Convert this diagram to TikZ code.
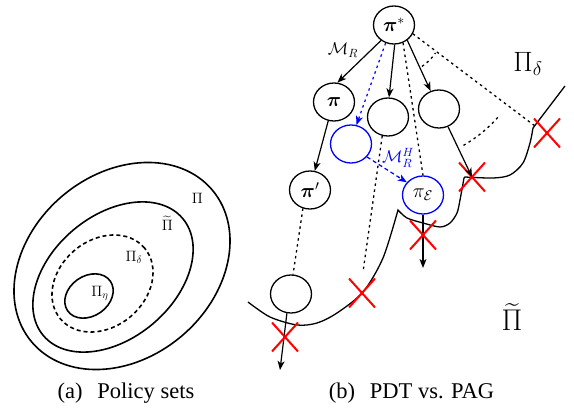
\RequirePackage{fix-cm}
\documentclass[tikz,border=0pt]{standalone}
\usepackage{amsmath}
\usepackage{bm}
\usepackage[no-math]{fontspec}
\setmainfont{Liberation Serif}
\usetikzlibrary{arrows.meta,shapes.geometric,shapes.misc}
\begin{document}
\begin{tikzpicture}[x=1pt,y=-1pt,
  circ/.style={draw, ellipse, minimum width=41pt, minimum height=38pt, inner sep=0pt, line width=1.3pt, font=\fontsize{20}{20}\selectfont},
  bcirc/.style={circ, draw=blue},
  arr/.style={line width=1.2pt, -{Stealth[length=9pt,width=7pt,inset=2.5pt]}},
  dotln/.style={line width=1.3pt, dash pattern=on 2.5pt off 3.5pt},
  curve/.style={line width=1.3pt, line join=miter},
  cross/.style={cross out, draw=red, line width=2pt, minimum width=24pt, minimum height=27pt, inner sep=0pt},
  ell/.style={line width=1.6pt},
  lab/.style={font=\fontsize{15}{15}\selectfont, inner sep=0pt},
  captext/.style={font=\fontsize{22.5}{24}\selectfont, anchor=base, inner sep=0pt}
]
\useasboundingbox (0,0) rectangle (574,412);

% (a) policy sets
\draw[ell, rotate around={40:(122,266)}] (122,266) ellipse [x radius=118pt, y radius=92pt];
\draw[ell, rotate around={40:(113,277)}] (113,277) ellipse [x radius=91pt, y radius=61.5pt];
\draw[ell, dash pattern=on 4pt off 3pt, rotate around={40:(102.5,283.5)}] (102.5,283.5) ellipse [x radius=55pt, y radius=43.4pt];
\draw[ell, rotate around={35:(89,296)}] (89,296) ellipse [x radius=26pt, y radius=20pt];
\node[lab] (lP) at (197.5,198.5) {$\Pi$};
\node[lab] (lPt) at (167.5,223) {$\widetilde{\Pi}$};
\node[lab] (lPd) at (134,257) {$\Pi_\delta$};
\node[lab] (lPe) at (100,293.5) {$\Pi_\eta$};
\node[captext] (capa) at (126,398) {(a)\hspace{0.66em}Policy sets};

% (b) PDT vs PAG
\draw[curve] plot[smooth] coordinates {(248,302) (270,317) (297,325) (317,323) (337,313) (363,292) (383,258) (398,210)}
  -- plot[smooth] coordinates {(398,210) (407,218) (423,223) (440,227) (450,223) (457,213) (460,200) (464,178)}
  -- plot[smooth] coordinates {(465,177) (493,178) (510,175) (523,163) (530,143) (533,128)}
  -- (565,86);

\node[circ] (ps) at (394,25) {$\bm{\pi}^{*}$};
\node[circ] (pi) at (334,102) {$\bm{\pi}$};
\node[circ] (m) at (388,117) {};
\node[circ] (r) at (439,109) {};
\node[bcirc] (b) at (351,144) {};
\node[circ] (pp) at (310,190) {$\bm{\pi}'$};
\node[bcirc] (pe) at (423,195) {$\pi_{\mathcal{E}}$};
\node[circ] (bl) at (291,294) {};

\node[font=\fontsize{17}{17}\selectfont, inner sep=0pt] (mr) at (343,50) {$\mathcal{M}_R$};
\node[font=\fontsize{17}{17}\selectfont, inner sep=0pt, text=blue] (mrh) at (398,158) {$\mathcal{M}_R^H$};
\node[font=\fontsize{28}{28}\selectfont, inner sep=0pt] (rPd) at (528,64) {$\Pi_\delta$};
\node[font=\fontsize{30}{30}\selectfont, inner sep=0pt] (rPt) at (512,317) {$\widetilde{\Pi}$};

\coordinate (e1) at (535,126);
\coordinate (e2) at (363,272);
\coordinate (e3) at (280,370);
\coordinate (e4) at (423,268);

\draw[arr] (ps.230) -- (pi.80);
\draw[arr] (ps.272) -- (m.87);
\draw[arr] (ps.311) -- (r.115);
\draw[arr, blue, dash pattern=on 2.5pt off 3.5pt] (ps.245) -- (b.74);
\draw[arr, blue, dash pattern=on 4pt off 3pt] (b.321) -- (pe.142);
\draw[dotln] (ps.297) -- (pe.90);
\draw[dotln] (ps.335) -- (e1);
\draw[arr] (pi.253) -- (pp.76);
\draw[dotln] (pp.249) -- (bl.84);
\draw[arr] (bl.258) -- (e3);
\draw[dotln] (m.253) -- (e2);
\draw[arr] (pe.270) -- (e4);

\draw[dotln] plot[smooth] coordinates {(421.96,66.45) (426.14,63.30) (429.36,60.36) (432.30,57.14) (435.45,52.96)};
\draw[dotln] plot[smooth] coordinates {(463.5,145.4) (473.7,138.9) (483.3,131.5) (492.3,123.3) (498.9,116.2)};

\node[cross] (x1) at (547,133) {};
\node[cross] (x2) at (472,177) {};
\node[cross] (x3) at (423,235) {};
\node[cross] (x4) at (362,293) {};
\node[cross] (x5) at (285,337) {};
\draw[arr] (r.297) -- (x2.center);

\node[captext] (capb) at (411.5,398) {(b)\hspace{0.66em}PDT vs. PAG};
\end{tikzpicture}
\end{document}
